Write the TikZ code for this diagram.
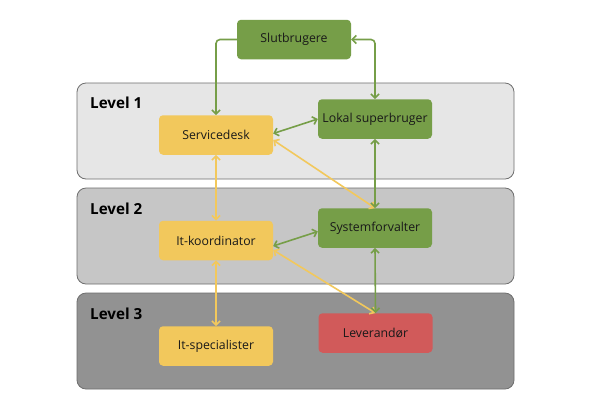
\documentclass[tikz,border=0pt]{standalone}
\usepackage{fontspec}
\setmainfont{Open Sans}
\usetikzlibrary{arrows.meta,calc}
\definecolor{grn}{RGB}{118,158,72}
\definecolor{yel}{RGB}{242,200,92}
\definecolor{red}{RGB}{209,90,90}
\definecolor{pA}{RGB}{230,230,230}
\definecolor{pB}{RGB}{198,198,198}
\definecolor{pC}{RGB}{146,146,146}
\definecolor{pbord}{RGB}{110,110,110}
\tikzset{
  box/.style={rounded corners=4pt, minimum width=114pt, minimum height=39.5pt, inner sep=0pt, font=\fontsize{12.3}{14}\selectfont, text=black!90},
  gbox/.style={box, fill=grn},
  ybox/.style={box, fill=yel},
  rbox/.style={box, fill=red},
  panel/.style={draw=pbord, line width=0.8pt, rounded corners=9pt},
  lvl/.style={font=\bfseries\fontsize{15.2}{17}\selectfont, anchor=base west, inner sep=0pt},
  tip/.style={Straight Barb[length=4pt,width=8pt,line width=1.5pt]},
  garr/.style={draw=grn, line width=1.6pt, {Straight Barb[length=4pt,width=8pt]}-{Straight Barb[length=4pt,width=8pt]}},
  yarr/.style={draw=yel, line width=1.6pt, {Straight Barb[length=4pt,width=8pt]}-{Straight Barb[length=4pt,width=8pt]}},
}
\begin{document}
\begin{tikzpicture}[x=1pt,y=-1pt]
\useasboundingbox (0,0) rectangle (593,400);
\fill[white] (0,0) rectangle (593,400);
% panels
\draw[panel, fill=pA] (77,83) rectangle (514,179);
\draw[panel, fill=pB] (77,188) rectangle (514,284);
\draw[panel, fill=pC] (77,293) rectangle (514,389);
\node[lvl] (l1) at (90,108) {Level 1};
\node[lvl] (l2) at (90,214) {Level 2};
\node[lvl] (l3) at (90,319) {Level 3};
% nodes
\node[gbox] (sb) at (294,39.5) {Slutbrugere};
\node[ybox] (sd) at (216,135) {Servicedesk};
\node[gbox] (ls) at (375,119) {Lokal superbruger};
\node[ybox] (ik) at (216,240.5) {It-koordinator};
\node[gbox] (sf) at (375,228) {Systemforvalter};
\node[ybox] (is) at (216,346) {It-specialister};
\node[rbox] (lv) at (375.5,333) {Leverandør};
% connectors
\draw[draw=grn, line width=1.6pt, rounded corners=4pt, -{Straight Barb[length=4pt,width=8pt]}] (sb.west) -| (sd.north);
\draw[garr, rounded corners=4pt] (sb.east) -| (ls.north);
\draw[garr] ($(sd.east)+(0,-1.5)$) -- (ls.west);
\draw[yarr] (sd.south) -- (ik.north);
\draw[yarr] ($(sd.east)+(0,5)$) -- (sf.north);
\draw[garr] (ls.south) -- (sf.north);
\draw[garr] ($(ik.east)+(0,5.5)$) -- ($(sf.west)+(0,3.5)$);
\draw[yarr] (ik.south) -- (is.north);
\draw[yarr] ($(ik.east)+(0,9.5)$) -- (lv.north);
\draw[garr] (sf.south) -- (lv.north);
\end{tikzpicture}
\end{document}
